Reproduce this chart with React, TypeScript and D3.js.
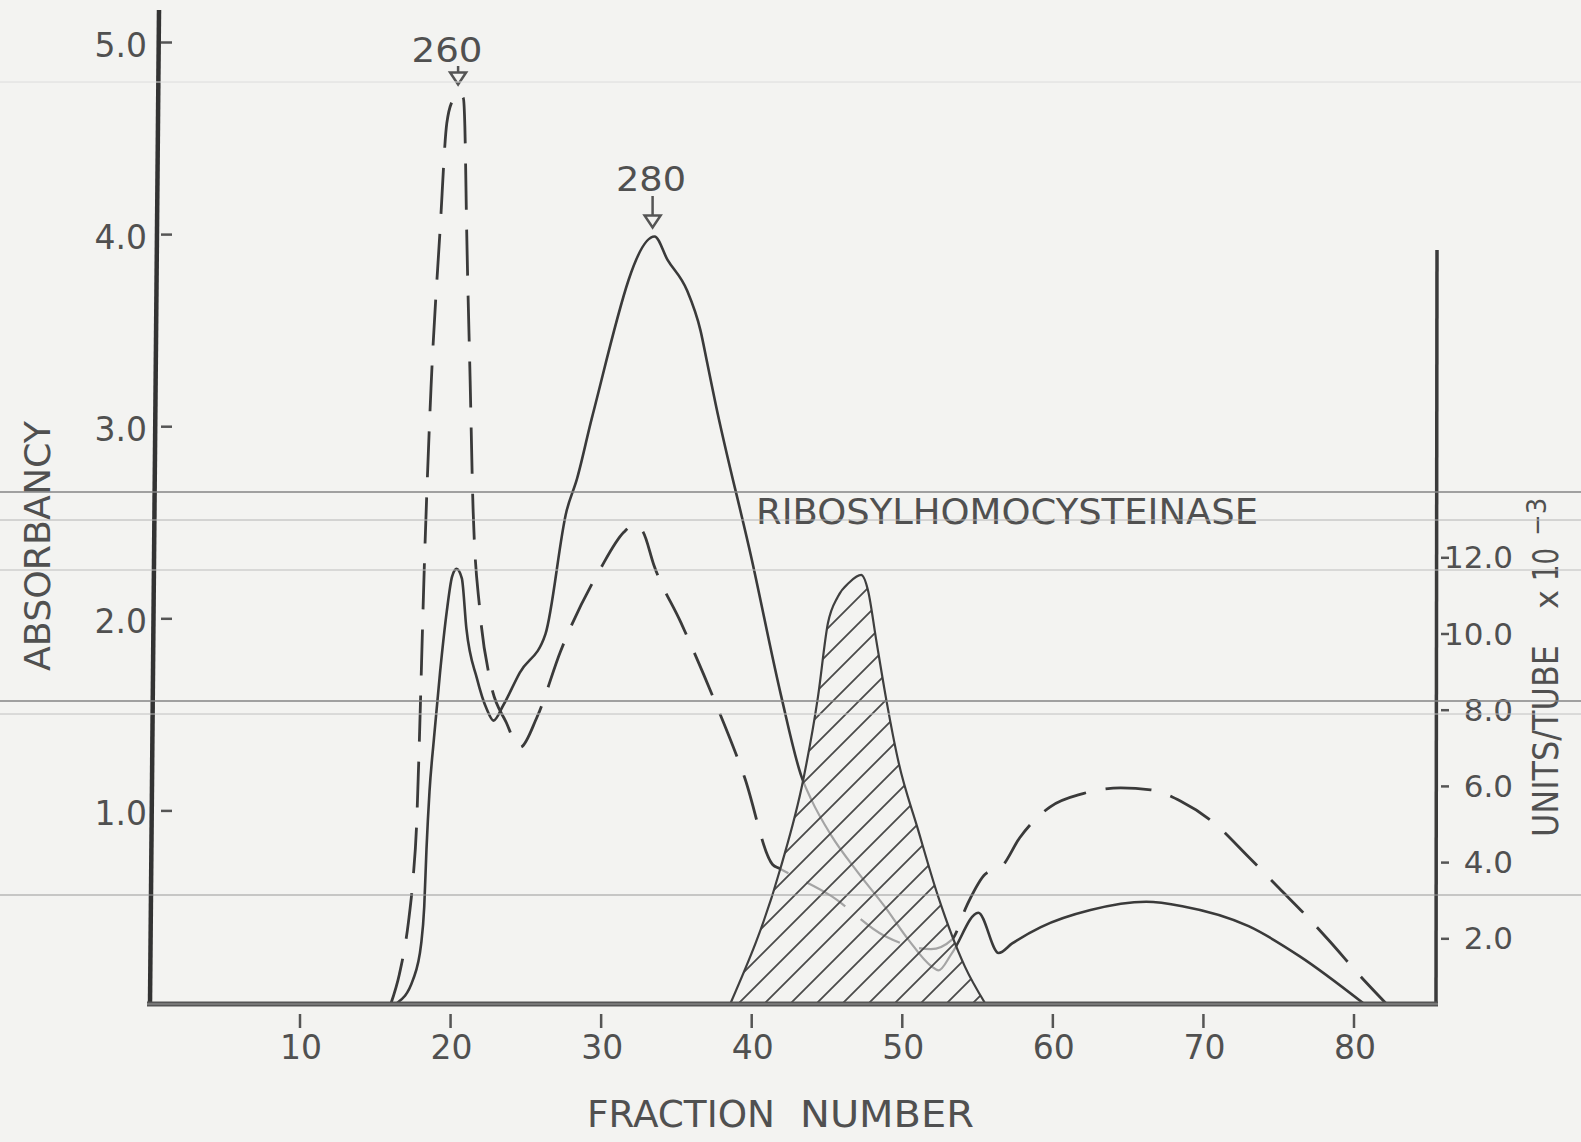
import React from "react";
import * as d3 from "d3";

// Sephadex elution profile: absorbance at 260 / 280 nm and ribosylhomocysteinase activity
const W = 1581;
const H = 1142;

const fractionTicks = [10, 20, 30, 40, 50, 60, 70, 80];
const absorbancyTicks = [1, 2, 3, 4, 5];
const absorbancyTickLabels = ["1.0", "2.0", "3.0", "4.0", "5.0"];
const unitTicks = [2, 4, 6, 8, 10, 12];
const unitTickLabels = ["2.0", "4.0", "6.0", "8.0", "10.0", "12.0"];

// Absorbance at 260 nm (dashed)
const a260Fraction = [
  16.05, 16.6, 17.2, 17.5, 17.75, 17.85, 18.3, 18.7, 19.3, 19.75, 20.2, 20.5, 20.85,
  20.95, 21.07, 21.3, 21.5, 21.95, 22.6, 23.7, 24.6, 25.75, 27.3, 29.95, 31.5, 32.2, 32.8,
  33.5, 35.3, 37.5, 39.5, 41.4, 41.85, 45.3, 48.8, 51.9, 53.3, 54.3, 55.5, 56.6, 57.8, 59.8,
  62.0, 64.5, 66.5, 68.5, 70.5, 73.0, 75.0, 77.0, 78.4, 80.3, 82.1,
];
const a260Value = [
  0, 0.15, 0.42, 0.64, 0.94, 1.17, 2.38, 3.2, 4.02, 4.58, 4.71, 4.74, 4.71, 4.56, 4.02,
  3.24, 2.56, 2.04, 1.69, 1.46, 1.33, 1.49, 1.83, 2.26, 2.45, 2.49, 2.45, 2.28, 1.98, 1.58,
  1.18, 0.72, 0.7, 0.556, 0.35, 0.28, 0.33, 0.51, 0.67, 0.71, 0.86, 1.02, 1.09, 1.12, 1.11,
  1.05, 0.95, 0.76, 0.6, 0.44, 0.32, 0.15, 0,
];

// Absorbance at 280 nm (solid)
const a280Fraction = [
  16.45, 17.5, 18.05, 18.25, 18.4, 18.6, 18.9, 19.3, 19.75, 20.1, 20.4, 20.75, 21.05, 21.75,
  22.4, 22.85, 23.5, 24.6, 26.3, 27.7, 28.4, 29.4, 33.55, 34.4, 35.7, 36.6, 37.05, 37.6, 40.0,
  41.95, 43.3, 43.95, 45.3, 47.05, 48.85, 50.4, 51.95, 52.4, 53.3, 55.05, 56.4, 57.3, 59.2,
  62.5, 66.2, 68.6, 73.0, 76.4, 80.6,
];
const a280Value = [
  0, 0.12, 0.31, 0.5, 0.8, 1.1, 1.38, 1.72, 2.04, 2.22, 2.26, 2.21, 1.95, 1.69, 1.53, 1.47,
  1.55, 1.72, 1.92, 2.56, 2.73, 3.05, 3.99, 3.87, 3.71, 3.5, 3.33, 3.12, 2.31, 1.6, 1.18,
  1.06, 0.87, 0.68, 0.5, 0.33, 0.19, 0.17, 0.26, 0.47, 0.26, 0.31, 0.395, 0.484, 0.527, 0.504,
  0.4, 0.243, 0,
];

// Ribosylhomocysteinase activity, units/tube x 10^-3 (hatched)
const activityFraction = [
  38.6, 41.94, 43.42, 44.4, 45.06, 45.72, 46.5, 47.27, 47.72, 48.27, 48.94, 49.72, 51.05,
  52.39, 54.16, 55.49,
];
const activityUnits = [
  0, 3.89, 6.17, 8.35, 10.28, 10.98, 11.36, 11.55, 11.15, 9.84, 8.27, 6.69, 4.86, 3.1, 1.27, 0,
];

// Horizontal streaks across the copy
const paperStreaks = [
  { y: 82, c: "#dcdcdc", w: 1 },
  { y: 492, c: "#858585", w: 1.4 },
  { y: 520, c: "#b4b4b4", w: 1 },
  { y: 570, c: "#bdbdbd", w: 1 },
  { y: 701, c: "#858585", w: 1.4 },
  { y: 714, c: "#c0c0c0", w: 1 },
  { y: 895, c: "#9a9a9a", w: 1.2 },
];

type Pt = { f: number; v: number };
const zip = (fs: number[], vs: number[]): Pt[] => fs.map((f, i) => ({ f, v: vs[i] }));

const PAPER = "#f3f3f1";
const INK = "#3a3a3a";
const TEXT = "#505050";
const FONT = "'DejaVu Sans', 'Liberation Sans', sans-serif";

export default function App() {
  const x = d3.scaleLinear().domain([10, 80]).range([300, 1354]);
  const yA = d3.scaleLinear().domain([0, 5]).range([1003, 42.5]);
  const yU = d3.scaleLinear().domain([0, 12]).range([1015, 557.8]);
  const base = yA(0);

  const d260 = zip(a260Fraction, a260Value);
  const d280 = zip(a280Fraction, a280Value);
  const dAct = zip(activityFraction, activityUnits);

  const line = d3
    .line<Pt>()
    .x((d) => x(d.f))
    .y((d) => yA(d.v))
    .curve(d3.curveMonotoneX);

  const area = d3
    .area<Pt>()
    .x((d) => x(d.f))
    .y0(base)
    .y1((d) => Math.min(yU(d.v), base))
    .curve(d3.curveMonotoneX);

  const path260 = line(d260) || "";
  const path280 = line(d280) || "";
  const actPath = area(dAct) || "";
  const actTop =
    d3
      .line<Pt>()
      .x((d) => x(d.f))
      .y((d) => Math.min(yU(d.v), base))
      .curve(d3.curveMonotoneX)(dAct) || "";

  const arrow = (cx: number, y0: number, y1: number) => {
    const headTop = y1 - 12;
    return `M${cx},${y0} L${cx},${headTop} M${cx - 8},${headTop} L${cx + 8},${headTop} L${cx},${y1} Z`;
  };

  const peak260 = d260.reduce((a, b) => (b.v > a.v ? b : a));
  const peak280 = d280.reduce((a, b) => (b.v > a.v ? b : a));

  return (
    <svg
      width={W}
      height={H}
      viewBox={`0 0 ${W} ${H}`}
      style={{ position: "absolute", left: 0, top: 0, display: "block" }}
    >
      <defs>
        <pattern id="hatch" patternUnits="userSpaceOnUse" width={26} height={26}>
          <path
            d="M0,26 L26,0 M-6.5,6.5 L6.5,-6.5 M19.5,32.5 L32.5,19.5"
            stroke="#4a4a4a"
            strokeWidth={1.8}
          />
        </pattern>
        <clipPath id="actClip">
          <path d={actPath} />
        </clipPath>
      </defs>

      <rect x={0} y={0} width={W} height={H} fill={PAPER} />

      {/* absorbance curves */}
      <path d={path280} fill="none" stroke={INK} strokeWidth={2.6} strokeLinejoin="round" />
      <path d={path260} fill="none" stroke={INK} strokeWidth={2.8} strokeDasharray="46 20" />

      {/* enzyme activity */}
      <path d={actPath} fill={PAPER} />
      <g clipPath="url(#actClip)">
        <path d={path280} fill="none" stroke="#a4a4a4" strokeWidth={2.2} />
        <path d={path260} fill="none" stroke="#a4a4a4" strokeWidth={2.2} strokeDasharray="46 20" />
      </g>
      <path d={actPath} fill="url(#hatch)" />
      <path d={actTop} fill="none" stroke="#3f3f3f" strokeWidth={2.2} />

      {/* axes */}
      <line x1={159} y1={10} x2={150} y2={base + 1} stroke="#333" strokeWidth={4.5} />
      <line x1={1437} y1={250} x2={1436} y2={base + 2} stroke="#3a3a3a" strokeWidth={3.5} />
      <line x1={147} y1={base + 1} x2={1438} y2={base + 1} stroke="#555" strokeWidth={5} />
      <line x1={147} y1={base + 1} x2={1438} y2={base + 1} stroke="#9a9a9a" strokeWidth={1.2} />

      {absorbancyTicks.map((t, i) => (
        <g key={`a${t}`}>
          <line x1={161} x2={172} y1={yA(t)} y2={yA(t)} stroke="#555" strokeWidth={2.5} />
          <text
            x={147}
            y={yA(t) + 5}
            textAnchor="end"
            dominantBaseline="middle"
            fontFamily={FONT}
            fontSize={33}
            fill={TEXT}
          >
            {absorbancyTickLabels[i]}
          </text>
        </g>
      ))}

      {fractionTicks.map((t) => (
        <g key={`f${t}`}>
          <line x1={x(t)} x2={x(t)} y1={base + 11} y2={base + 25} stroke="#555" strokeWidth={2.5} />
          <text
            x={x(t) + 1}
            y={1049}
            textAnchor="middle"
            dominantBaseline="middle"
            fontFamily={FONT}
            fontSize={33}
            fill={TEXT}
          >
            {t}
          </text>
        </g>
      ))}

      {unitTicks.map((t, i) => (
        <g key={`u${t}`}>
          <line x1={1441} x2={1449} y1={yU(t)} y2={yU(t)} stroke="#555" strokeWidth={2.5} />
          <text
            x={1513}
            y={yU(t) + 2}
            textAnchor="end"
            dominantBaseline="middle"
            fontFamily={FONT}
            fontSize={31}
            fill={TEXT}
          >
            {unitTickLabels[i]}
          </text>
        </g>
      ))}

      {/* axis titles */}
      <text
        transform="translate(50,546) rotate(-90)"
        textAnchor="middle"
        fontFamily={FONT}
        fontSize={36}
        fill={TEXT}
        textLength={250}
        lengthAdjust="spacingAndGlyphs"
      >
        ABSORBANCY
      </text>
      <text
        x={587}
        y={1127}
        fontFamily={FONT}
        fontSize={38}
        fill={TEXT}
        textLength={188}
        lengthAdjust="spacingAndGlyphs"
      >
        FRACTION
      </text>
      <text
        x={800}
        y={1127}
        fontFamily={FONT}
        fontSize={38}
        fill={TEXT}
        textLength={174}
        lengthAdjust="spacingAndGlyphs"
      >
        NUMBER
      </text>
      <g transform="translate(1558,837) rotate(-90)" fontFamily={FONT} fill={TEXT}>
        <text x={0} y={0} fontSize={35} textLength={192} lengthAdjust="spacingAndGlyphs">
          UNITS/TUBE
        </text>
        <text x={228} y={0} fontSize={32}>
          x
        </text>
        <text x={256} y={0} fontSize={35} textLength={33} lengthAdjust="spacingAndGlyphs">
          10
        </text>
        <text x={301} y={-12} fontSize={26}>
          −3
        </text>
      </g>

      {/* annotations */}
      <text
        x={756}
        y={524}
        fontFamily={FONT}
        fontSize={36}
        fill={TEXT}
        textLength={502}
        lengthAdjust="spacingAndGlyphs"
      >
        RIBOSYLHOMOCYSTEINASE
      </text>
      <text
        x={447}
        y={62}
        textAnchor="middle"
        fontFamily={FONT}
        fontSize={34}
        fill={TEXT}
        textLength={71}
        lengthAdjust="spacingAndGlyphs"
      >
        260
      </text>
      <path d={arrow(x(peak260.f), 66, yA(peak260.v) - 8)} fill="none" stroke="#555" strokeWidth={2.5} />
      <text
        x={651}
        y={191}
        textAnchor="middle"
        fontFamily={FONT}
        fontSize={34}
        fill={TEXT}
        textLength={70}
        lengthAdjust="spacingAndGlyphs"
      >
        280
      </text>
      <path d={arrow(x(peak280.f) - 2, 196, yA(peak280.v) - 9)} fill="none" stroke="#555" strokeWidth={2.5} />

      {/* streaks from the copy */}
      {paperStreaks.map((s) => (
        <line key={s.y} x1={0} x2={W} y1={s.y} y2={s.y} stroke={s.c} strokeWidth={s.w} />
      ))}
    </svg>
  );
}
